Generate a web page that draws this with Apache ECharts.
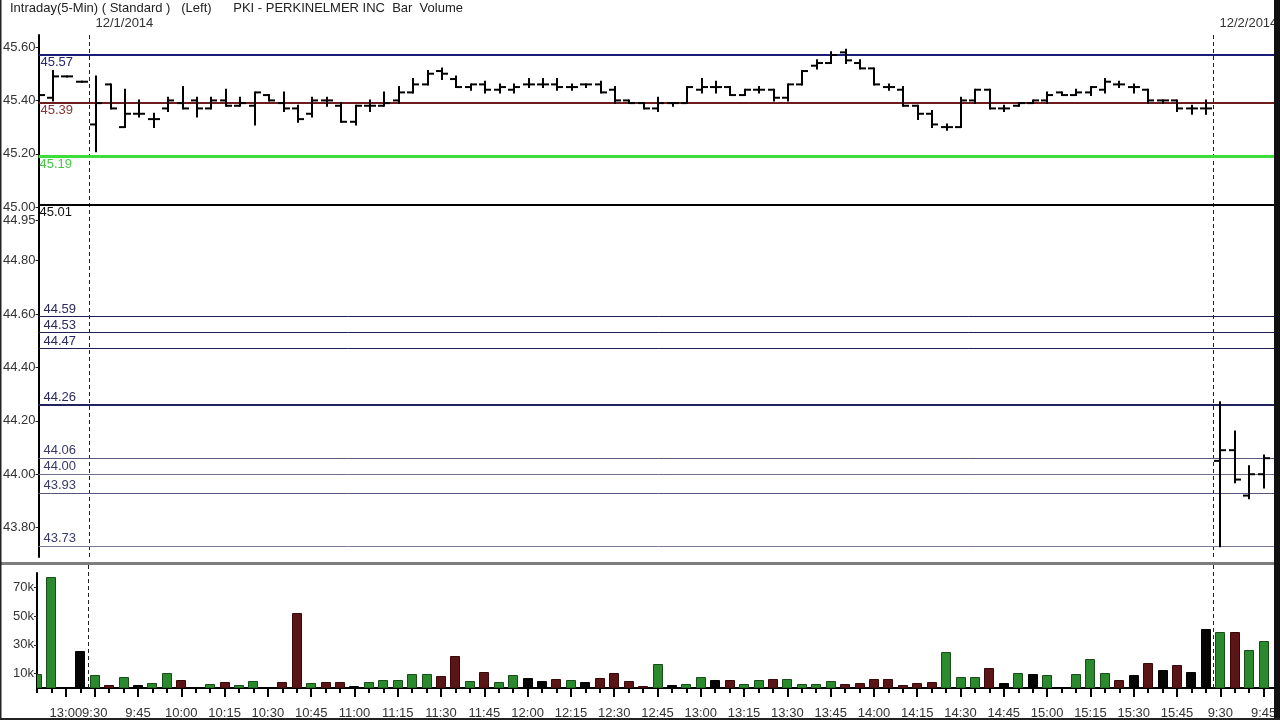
<!DOCTYPE html>
<html>
<head>
<meta charset="utf-8">
<script src="https://cdn.jsdelivr.net/npm/echarts@6/dist/echarts.min.js"></script>
<style>html,body{margin:0;padding:0;background:#fff}#c{width:1280px;height:720px}</style>
</head>
<body>
<div id="c"></div>
<script>
// ---------- categories (5-minute bars) ----------
const prevSessionTimes = ["12:50","12:55","13:00","13:05"];
const day1Times = ["9:30","9:35","9:40","9:45","9:50","9:55",
  "10:00","10:05","10:10","10:15","10:20","10:25","10:30","10:35","10:40","10:45","10:50","10:55",
  "11:00","11:05","11:10","11:15","11:20","11:25","11:30","11:35","11:40","11:45","11:50","11:55",
  "12:00","12:05","12:10","12:15","12:20","12:25","12:30","12:35","12:40","12:45","12:50","12:55",
  "13:00","13:05","13:10","13:15","13:20","13:25","13:30","13:35","13:40","13:45","13:50","13:55",
  "14:00","14:05","14:10","14:15","14:20","14:25","14:30","14:35","14:40","14:45","14:50","14:55",
  "15:00","15:05","15:10","15:15","15:20","15:25","15:30","15:35","15:40","15:45","15:50","15:55"];
const day2Times = ["9:30","9:35","9:40","9:45","9:50"];

// ---------- tick labels ----------
const prevSessionLabels = ["13:00"];
const day1Labels = ["9:30","9:45","10:00","10:15","10:30","10:45","11:00","11:15","11:30","11:45",
  "12:00","12:15","12:30","12:45","13:00","13:15","13:30","13:45","14:00","14:15","14:30","14:45",
  "15:00","15:15","15:30","15:45"];
const day2Labels = ["9:30","9:45"];
const sessionDates = ["12/1/2014","12/2/2014"];
const priceTicks = [45.60,45.40,45.20,45.00,44.95,44.80,44.60,44.40,44.20,44.00,43.80];
const volumeTicks = [10,30,50,70];

// ---------- price bars ----------
const opens = [45.41,45.41,45.49,45.47,
  45.31,45.46,45.30,45.35,45.33,45.37,
  45.39,45.40,45.37,45.40,45.38,45.38,45.42,45.39,45.37,45.35,
  45.40,45.38,45.32,45.38,45.38,45.40,45.43,45.46,45.51,45.48,
  45.45,45.46,45.44,45.44,45.46,45.46,45.46,45.45,45.46,45.46,
  45.44,45.40,45.39,45.37,45.39,45.39,45.44,45.45,45.45,45.42,
  45.44,45.44,45.41,45.46,45.53,45.54,45.58,45.54,45.52,45.45,
  45.44,45.38,45.35,45.30,45.30,45.40,45.44,45.37,45.38,45.39,
  45.40,45.43,45.42,45.43,45.44,45.46,45.45,45.44,45.40,45.40,
  45.37,45.37,
  44.05,44.09,43.92,44.00];
const highs = [45.43,45.51,45.49,45.47,
  45.49,45.46,45.44,45.40,45.35,45.41,
  45.45,45.41,45.41,45.44,45.41,45.43,45.42,45.43,45.38,45.41,
  45.41,45.39,45.38,45.40,45.43,45.45,45.48,45.51,45.52,45.49,
  45.46,45.47,45.46,45.46,45.48,45.48,45.48,45.46,45.46,45.47,
  45.45,45.40,45.39,45.41,45.39,45.45,45.48,45.47,45.45,45.44,
  45.45,45.44,45.46,45.51,45.55,45.58,45.59,45.55,45.52,45.46,
  45.45,45.38,45.36,45.31,45.41,45.44,45.44,45.38,45.39,45.40,
  45.43,45.43,45.44,45.45,45.48,45.47,45.46,45.44,45.40,45.40,
  45.38,45.40,
  44.27,44.16,44.03,44.07];
const lows = [45.40,45.40,45.49,45.47,
  45.21,45.37,45.30,45.34,45.30,45.36,
  45.37,45.34,45.37,45.38,45.38,45.31,45.40,45.36,45.32,45.34,
  45.38,45.32,45.31,45.36,45.38,45.39,45.43,45.46,45.48,45.45,
  45.44,45.43,45.43,45.43,45.45,45.45,45.44,45.44,45.45,45.43,
  45.39,45.39,45.37,45.36,45.38,45.39,45.43,45.43,45.42,45.42,
  45.43,45.40,45.40,45.46,45.52,45.54,45.54,45.52,45.46,45.44,
  45.38,45.33,45.30,45.29,45.30,45.39,45.37,45.36,45.38,45.39,
  45.39,45.42,45.42,45.42,45.43,45.45,45.43,45.39,45.39,45.36,
  45.35,45.35,
  43.73,43.97,43.91,43.95];
const closes = [45.42,45.49,45.49,45.47,
  45.39,45.37,45.35,45.35,45.33,45.40,
  45.37,45.37,45.40,45.38,45.39,45.43,45.40,45.37,45.33,45.40,
  45.40,45.32,45.38,45.38,45.39,45.43,45.46,45.50,45.50,45.45,
  45.46,45.44,45.45,45.45,45.46,45.46,45.45,45.45,45.46,45.43,
  45.40,45.39,45.37,45.39,45.39,45.45,45.45,45.45,45.42,45.44,
  45.44,45.41,45.46,45.51,45.54,45.57,45.55,45.52,45.46,45.45,
  45.38,45.35,45.31,45.30,45.40,45.44,45.37,45.37,45.39,45.40,
  45.42,45.42,45.43,45.45,45.47,45.46,45.45,45.40,45.40,45.37,
  45.37,45.37,
  44.09,43.98,44.00,44.06];

// ---------- volume (thousands of shares) ----------
const volumeThousands = [10,77,0,26,
  9,2,7.7,2,3.7,10.2,
  5.6,1,2.8,4.2,2,4.9,1,4.2,52,3.4,
  4.2,4.2,1.4,4.2,5.6,5.6,9.8,9.8,8.4,22.3,
  4.9,11.2,4.2,9,7,4.9,6.3,5.6,4.2,7,
  10.5,4.9,1.4,16.7,2,2.8,7.7,5.6,5.6,2.8,
  5.6,6.3,6.3,2.8,2.8,4.9,2.8,3.5,6.3,6.3,
  2,3.5,4.2,25,7.7,7.7,14,3.5,10.5,9.8,
  9,1,9.8,20.2,10.5,5.6,9,17.4,12.6,16,
  11.2,41,
  39,39,26.5,32.7];
const volumeTone = ["u","u","f","f",
  "u","d","u","f","u","u",
  "d","f","u","d","u","u","f","d","d","u",
  "d","d","f","u","u","u","u","u","d","d",
  "u","d","u","u","f","f","d","u","f","d",
  "d","d","d","u","f","u","u","f","d","u",
  "u","d","u","u","u","u","d","d","d","d",
  "d","d","d","u","u","u","d","f","u","f",
  "u","f","u","u","u","d","f","d","f","d",
  "f","f",
  "u","d","u","u"];

// ---------- reference levels ----------
const levelValues = [45.57,45.39,45.19,45.01,44.59,44.53,44.47,44.26,44.06,44.00,43.93,43.73];

// ================= build =================
const categories = prevSessionTimes.concat(day1Times, day2Times);
const sessions = [
  {times: prevSessionTimes, labels: prevSessionLabels},
  {times: day1Times, labels: day1Labels},
  {times: day2Times, labels: day2Labels}
];
const labeledIdx = new Set();
let off = 0;
sessions.forEach(s => {
  s.times.forEach((t, i) => { if (s.labels.indexOf(t) >= 0) labeledIdx.add(off + i); });
  off += s.times.length;
});
const breakAfter = [prevSessionTimes.length - 1, prevSessionTimes.length + day1Times.length - 1];
const showLabel = (idx) => labeledIdx.has(idx);

const FONT = '"Liberation Sans", Arial, sans-serif';

const levelStyles = [
  {color:'#1b1b78', width:2, text:'#262670', pos:'insideStartBottom', dx:2},
  {color:'#6e1c1c', width:2, text:'#8c3434', pos:'insideStartBottom', dx:2},
  {color:'#3cdc3c', width:3, text:'#46c846', pos:'insideStartBottom', dx:1},
  {color:'#000000', width:2, text:'#111111', pos:'insideStartBottom', dx:1},
  {color:'#1e1e52', width:1, text:'#2a2a62', pos:'insideStartTop', dx:5},
  {color:'#1e1e52', width:1, text:'#2a2a62', pos:'insideStartTop', dx:5},
  {color:'#1e1e52', width:1, text:'#2a2a62', pos:'insideStartTop', dx:5},
  {color:'#22225e', width:2, text:'#2a2a62', pos:'insideStartTop', dx:5},
  {color:'#5a5a80', width:1, text:'#3a3a6a', pos:'insideStartTop', dx:5},
  {color:'#6e6e8e', width:1, text:'#3a3a6a', pos:'insideStartTop', dx:5},
  {color:'#56567e', width:1, text:'#3a3a6a', pos:'insideStartTop', dx:5},
  {color:'#7a7a9a', width:1, text:'#3a3a6a', pos:'insideStartTop', dx:5}
];
const markData = levelValues.map((v, i) => {
  const s = levelStyles[i];
  return {
    yAxis: v,
    lineStyle: {color: s.color, width: s.width, type: 'solid'},
    label: {show: true, position: s.pos, formatter: v.toFixed(2), color: s.text,
            fontSize: 13, fontFamily: FONT, distance: [s.dx, 1]}
  };
});

const ohlcData = opens.map((o, i) => [i, o, highs[i], lows[i], closes[i]]);
const volData = volumeThousands.map((v, i) => [i, v]);

const toneStyle = {
  u: {fill: '#2c8a2e', stroke: '#184d19'},
  d: {fill: '#5a1616', stroke: '#3a0808'},
  f: {fill: '#050505', stroke: '#000000'}
};

function renderOHLC(params, api) {
  const i = api.value(0);
  const x = Math.round(api.coord([i, api.value(1)])[0]);
  const yO = api.coord([i, api.value(1)])[1];
  const yH = api.coord([i, api.value(2)])[1];
  const yL = api.coord([i, api.value(3)])[1];
  const yC = api.coord([i, api.value(4)])[1];
  const st = {stroke: '#000', lineWidth: 2};
  return {type: 'group', children: [
    {type: 'line', shape: {x1: x, y1: yH - 1, x2: x, y2: yL + 1}, style: st},
    {type: 'line', shape: {x1: x - 6, y1: yO, x2: x, y2: yO}, style: st},
    {type: 'line', shape: {x1: x, y1: yC, x2: x + 6, y2: yC}, style: st}
  ]};
}
function renderVolume(params, api) {
  const i = api.value(0);
  const v = api.value(1);
  if (!v) return null;
  const top = api.coord([i, v]);
  const base = api.coord([i, 0]);
  const w = 10;
  const x = Math.round(top[0] - w / 2) + 0.5;
  const yTop = Math.round(top[1]) + 0.5;
  const tone = toneStyle[volumeTone[params.dataIndex]];
  return {type: 'rect', shape: {x: x, y: yTop, width: w - 1, height: base[1] - yTop},
          style: {fill: tone.fill, stroke: tone.stroke, lineWidth: 1}};
}
function makeBreakRenderer(withDate) {
  return function (params, api) {
    const i = api.value(0);
    const xa = api.coord([i, 0])[0], xb = api.coord([i + 1, 0])[0];
    const x = Math.round((xa + xb) / 2) + 0.5;
    const cs = params.coordSys;
    const y0 = withDate ? cs.y : cs.y - 8;
    const children = [{type: 'line', shape: {x1: x, y1: y0, x2: x, y2: cs.y + cs.height},
      style: {stroke: '#222', lineWidth: 1, lineDash: [4, 3]}}];
    if (withDate) {
      children.push({type: 'text', x: x + 6, y: cs.y - 12,
        style: {text: sessionDates[params.dataIndex], fill: '#333', font: '13px ' + FONT,
                align: 'left', verticalAlign: 'middle'}});
    }
    return {type: 'group', children: children};
  };
}

const chart = echarts.init(document.getElementById('c'));
chart.setOption({
  animation: false,
  backgroundColor: '#ffffff',
  textStyle: {fontFamily: FONT},
  title: {
    text: 'Intraday(5-Min) ( Standard )   (Left)      PKI - PERKINELMER INC  Bar  Volume',
    left: 10, top: 2, padding: 0,
    textStyle: {fontSize: 13, fontWeight: 'normal', color: '#222', fontFamily: FONT}
  },
  grid: [
    {left: 37, right: 2, top: 35, height: 522},
    {left: 37, right: 2, top: 573, height: 115}
  ],
  xAxis: [
    {type: 'category', gridIndex: 0, data: categories, boundaryGap: false,
     axisLine: {show: false}, axisTick: {show: false}, axisLabel: {show: false}, splitLine: {show: false}},
    {type: 'category', gridIndex: 1, data: categories, boundaryGap: false, position: 'bottom',
     axisLine: {show: true, onZero: false, lineStyle: {color: '#000', width: 2}},
     axisTick: {show: true, interval: 0, length: 5, lineStyle: {color: '#000', width: 2}},
     axisLabel: {show: true, interval: (idx) => showLabel(idx), margin: 19, fontSize: 13, color: '#333', fontFamily: FONT},
     splitLine: {show: false}},
    {type: 'category', gridIndex: 1, data: categories, boundaryGap: false, position: 'bottom',
     axisLine: {show: false, onZero: false},
     axisTick: {show: true, interval: (idx) => showLabel(idx), length: 9, lineStyle: {color: '#000', width: 2}},
     axisLabel: {show: false}, splitLine: {show: false}}
  ],
  yAxis: [
    {type: 'value', gridIndex: 0, min: 43.69, max: 45.645,
     axisLine: {show: true, lineStyle: {color: '#000', width: 2}},
     axisTick: {show: true, length: 3, customValues: priceTicks, lineStyle: {color: '#222'}},
     axisLabel: {show: true, customValues: priceTicks, formatter: (v) => Number(v).toFixed(2),
                 margin: 3, fontSize: 13, color: '#333', fontFamily: FONT, padding: [5, 0, 0, 0]},
     splitLine: {show: false}},
    {type: 'value', gridIndex: 1, min: 0, max: 80,
     axisLine: {show: true, lineStyle: {color: '#000', width: 2}},
     axisTick: {show: true, length: 3, customValues: volumeTicks, lineStyle: {color: '#222'}},
     axisLabel: {show: true, customValues: volumeTicks, formatter: (v) => v + 'k',
                 margin: 3, fontSize: 13, color: '#333', fontFamily: FONT, padding: [4, 0, 0, 0]},
     splitLine: {show: false}}
  ],
  series: [
    {type: 'custom', name: 'breaksPrice', xAxisIndex: 0, yAxisIndex: 0, silent: true, clip: false,
     renderItem: makeBreakRenderer(true), data: breakAfter.map(i => [i]), z: 1},
    {type: 'custom', name: 'breaksVol', xAxisIndex: 1, yAxisIndex: 1, silent: true, clip: false,
     renderItem: makeBreakRenderer(false), data: breakAfter.map(i => [i]), z: 1},
    {type: 'custom', name: 'PKI', xAxisIndex: 0, yAxisIndex: 0, clip: true, z: 5,
     renderItem: renderOHLC, encode: {x: 0, y: [1, 2, 3, 4]}, data: ohlcData,
     markLine: {silent: true, symbol: 'none', animation: false, data: markData, z: 3}},
    {type: 'custom', name: 'Volume', xAxisIndex: 1, yAxisIndex: 1, clip: true, z: 4,
     renderItem: renderVolume, encode: {x: 0, y: 1}, data: volData}
  ],
  graphic: [
    {type: 'rect', z: 100, shape: {x: 0, y: 562, width: 1280, height: 3}, style: {fill: '#7d7d7d'}},
    {type: 'rect', z: 100, shape: {x: 1274, y: 0, width: 6, height: 720}, style: {fill: '#111'}},
    {type: 'rect', z: 100, shape: {x: 0, y: 0, width: 1.5, height: 720}, style: {fill: '#222'}},
    {type: 'rect', z: 100, shape: {x: 0, y: 718, width: 1280, height: 2}, style: {fill: '#222'}}
  ]
});
</script>
</body>
</html>
